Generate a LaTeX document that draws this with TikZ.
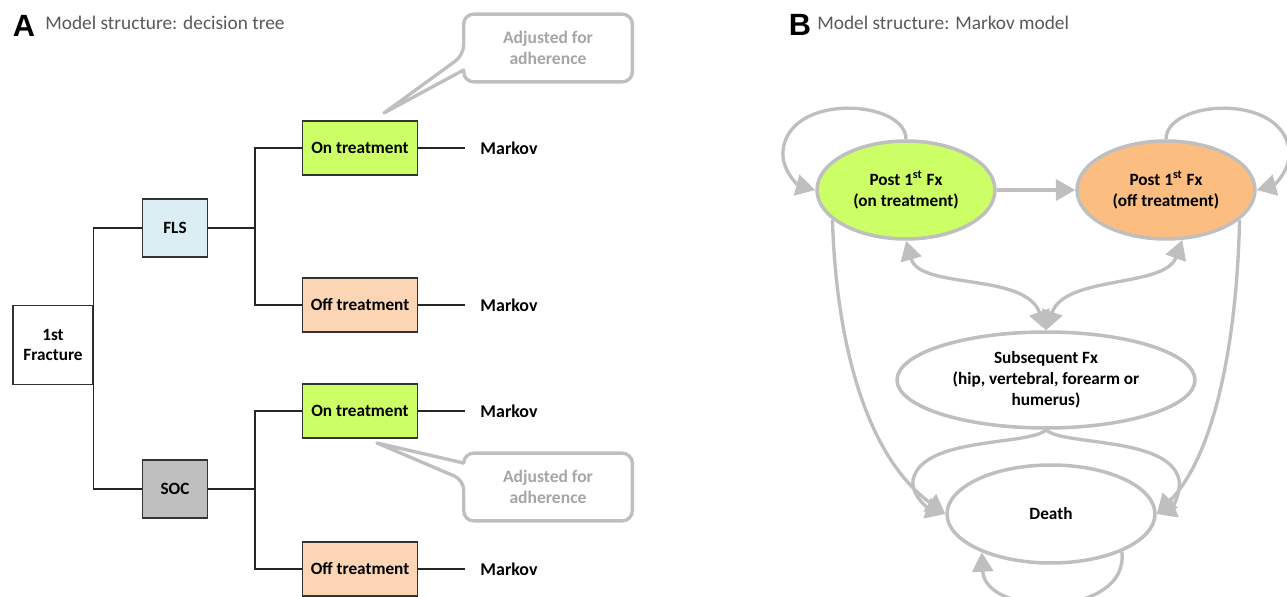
\documentclass[tikz,border=0pt]{standalone}
\usepackage{fontspec}
\setmainfont{Carlito}
\newfontfamily\headfont{Liberation Sans}
\usetikzlibrary{calc}
\usetikzlibrary{arrows.meta}
\usetikzlibrary{shapes.geometric}

\definecolor{ongreen}{HTML}{CCFF66}
\definecolor{offlight}{HTML}{FCD5B5}
\definecolor{offdeep}{HTML}{FBBE80}
\definecolor{flsblue}{HTML}{DBEEF4}
\definecolor{socgray}{HTML}{BFBFBF}
\definecolor{linegray}{HTML}{BFBFBF}
\definecolor{notegray}{HTML}{A6A6A6}
\definecolor{titlegray}{HTML}{595959}

\tikzset{
  box/.style={draw=black!80, line width=0.6pt, align=center, inner sep=0pt,
    font=\fontsize{9.8}{11.3}\selectfont\bfseries},
  treat/.style={box, minimum width=2.3cm, minimum height=1.08cm},
  arm/.style={box, minimum width=1.3cm, minimum height=1.16cm},
  branch/.style={draw=black!85, line width=0.8pt},
  markov/.style={font=\fontsize{10.2}{12}\selectfont\bfseries, inner xsep=8.5pt},
  note/.style={draw=linegray, line width=1.9pt, fill=white, line join=round},
  notetext/.style={text=notegray, font=\fontsize{10}{12}\selectfont\bfseries, align=center,
    minimum width=3.36cm, minimum height=1.34cm, inner sep=0pt},
  state/.style={ellipse, draw=linegray, line width=2pt, inner sep=0pt, align=center,
    font=\fontsize{9.8}{12}\selectfont\bfseries},
  trans/.style={draw=linegray, line width=1.9pt, -{Triangle[length=11pt,width=12pt]}},
  trans2/.style={trans, {Triangle[length=11pt,width=12pt]}-{Triangle[length=11pt,width=12pt]}},
  title/.style={text=titlegray, font=\fontsize{11}{12}\selectfont, anchor=west, inner sep=0pt},
  panel/.style={font=\headfont\fontsize{17.5}{17.5}\selectfont\bfseries, inner sep=0pt}
}

\begin{document}
\begin{tikzpicture}[x=0.02cm, y=-0.02cm]
  \useasboundingbox (0,0) rectangle (1287,597);

  \node[panel] (lblA) at (24,26) {A};
  \node[title] (ttlA) at (45,23) {Model structure: decision tree};

  \node[box, fill=white, minimum width=1.6cm, minimum height=1.58cm] (frac) at (53,345) {1st\\Fracture};
  \node[arm, fill=flsblue] (fls) at (175,228) {FLS};
  \node[arm, fill=socgray] (soc) at (175,489) {SOC};
  \node[treat, fill=ongreen] (on1) at (360,148) {On treatment};
  \node[treat, fill=offlight] (off1) at (360,305) {Off treatment};
  \node[treat, fill=ongreen] (on2) at (360,411) {On treatment};
  \node[treat, fill=offlight] (off2) at (360,569) {Off treatment};
  \node[markov] (mk1) at (509,148) {Markov};
  \node[markov] (mk2) at (509,305) {Markov};
  \node[markov] (mk3) at (509,411) {Markov};
  \node[markov] (mk4) at (509,569) {Markov};
  \coordinate (flsj) at (255,228);
  \coordinate (socj) at (255,489);

  \draw[branch] (frac.east) |- (fls.west);
  \draw[branch] (frac.east) |- (soc.west);
  \draw[branch] (fls.east) -- (flsj) |- (on1.west);
  \draw[branch] (flsj) |- (off1.west);
  \draw[branch] (soc.east) -- (socj) |- (on2.west);
  \draw[branch] (socj) |- (off2.west);
  \draw[branch] (on1.east) -- (mk1.west);
  \draw[branch] (off1.east) -- (mk2.west);
  \draw[branch] (on2.east) -- (mk3.west);
  \draw[branch] (off2.east) -- (mk4.west);

  \node[notetext] (adh1) at (548,48) {};
  \coordinate (tip1) at (384,113);
  \draw[note] ($(adh1.west)+(0,7)$) -- (tip1) -- ($(adh1.west)+(0,22)$) [rounded corners=0.2cm]
    -- (adh1.south west) -- (adh1.south east) -- (adh1.north east) -- (adh1.north west) -- cycle;
  \node[notetext] at (adh1) {Adjusted for\\adherence};

  \node[notetext] (adh2) at (548,487) {};
  \coordinate (tip2) at (377,443);
  \draw[note] ($(adh2.west)+(0,-7)$) -- (tip2) -- ($(adh2.west)+(0,-24)$) [rounded corners=0.2cm]
    -- (adh2.north west) -- (adh2.north east) -- (adh2.south east) -- (adh2.south west) -- cycle;
  \node[notetext] at (adh2) {Adjusted for\\adherence};

  \node[panel] (lblB) at (800,25) {B};
  \node[title] (ttlB) at (817,23) {Model structure: Markov model};

  \node[state, fill=ongreen, minimum width=3.56cm, minimum height=1.96cm] (pon) at (906,190) {Post 1\textsuperscript{st} Fx\\(on treatment)};
  \node[state, fill=offdeep, minimum width=3.56cm, minimum height=1.96cm] (poff) at (1166,190) {Post 1\textsuperscript{st} Fx\\(off treatment)};
  \node[state, fill=white, minimum width=5.96cm, minimum height=1.92cm] (subfx) at (1046,380) {Subsequent Fx\\(hip, vertebral, forearm or\\humerus)};
  \node[state, fill=white, minimum width=4.16cm, minimum height=1.96cm] (death) at (1051,514) {Death};

  \draw[trans] (pon.east) -- (poff.west);
  \draw[trans] (pon.north) .. controls (906,100) and (790,92) .. (783,150) .. controls (781,172) and (800,186) .. (pon.west);
  \draw[trans] (poff.north) .. controls (1166,100) and (1282,92) .. (1289,150) .. controls (1291,172) and (1272,186) .. (poff.east);
  \draw[trans2] (pon.south) .. controls (920,290) and (1025,272) .. (subfx.north);
  \draw[trans2] (poff.-72) .. controls (1165,288) and (1065,275) .. (subfx.north);
  \draw[trans] (pon.-158) .. controls (836,340) and (865,455) .. (death.west);
  \draw[trans] (poff.-22) .. controls (1237,340) and (1215,455) .. (death.east);
  \draw[trans] (subfx.south) .. controls (1030,446) and (922,436) .. (913,480) .. controls (911,497) and (930,509) .. (death.west);
  \draw[trans] (subfx.south) .. controls (1062,446) and (1170,436) .. (1179,480) .. controls (1181,497) and (1170,509) .. (death.east);
  \draw[trans] (death.-28) .. controls (1130,618) and (985,618) .. (death.-151);
\end{tikzpicture}
\end{document}
